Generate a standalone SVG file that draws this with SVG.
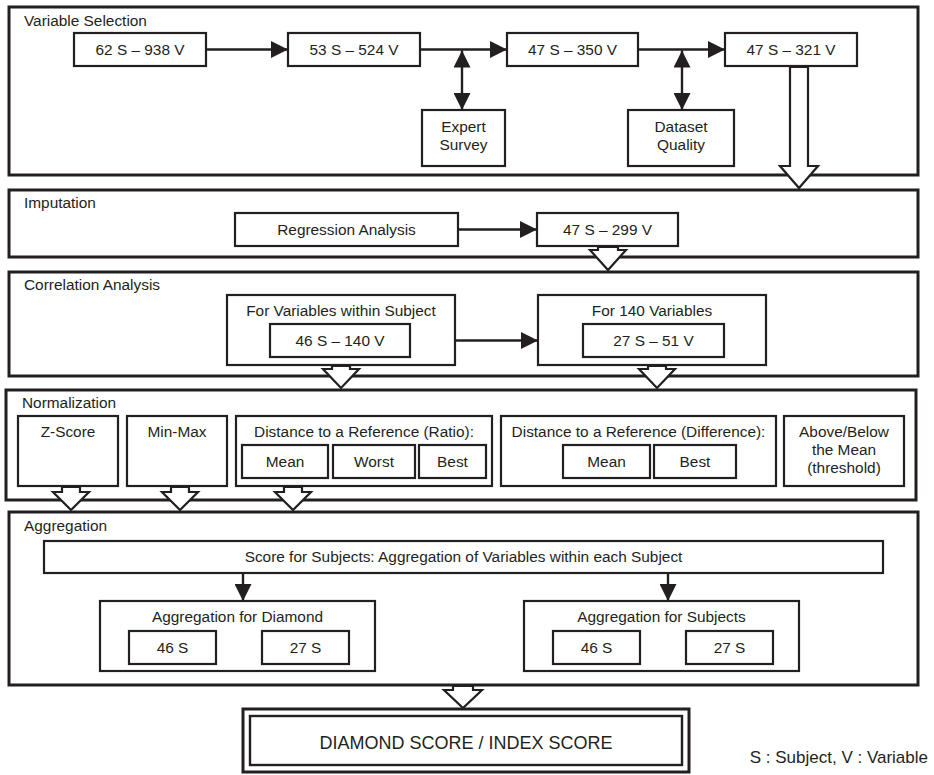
<svg xmlns="http://www.w3.org/2000/svg" width="934" height="775" viewBox="0 0 934 775">
<defs>
<marker id="ah" markerUnits="userSpaceOnUse" markerWidth="18" markerHeight="17" refX="17" refY="8.5" orient="auto-start-reverse" viewBox="0 0 18 17">
<path d="M0,0 L17,8.5 L0,17 Z" fill="#231f20"/>
</marker>
</defs>
<style>
text{font-family:"Liberation Sans",Arial,sans-serif;font-size:15.4px;fill:#231f20}
.c{text-anchor:middle}
.sec{fill:#fff;stroke:#231f20;stroke-width:3}
.box{fill:#fff;stroke:#231f20;stroke-width:2.2}
.ln{fill:none;stroke:#231f20;stroke-width:2.4}
.hollow{fill:#fff;stroke:#231f20;stroke-width:2.2;stroke-linejoin:miter}
.big{font-size:18px}
.leg{font-size:17px}
</style>
<rect width="934" height="775" fill="#fff"/>

<g id="sec-variable-selection">
<rect class="sec" x="9" y="7" width="909" height="168"/>
<text x="24" y="26">Variable Selection</text>
</g>
<g id="sec-imputation">
<rect class="sec" x="9" y="190" width="909" height="67"/>
<text x="24" y="208">Imputation</text>
</g>
<g id="sec-correlation">
<rect class="sec" x="9" y="272" width="909" height="104"/>
<text x="24" y="290">Correlation Analysis</text>
</g>
<g id="sec-normalization">
<rect class="sec" x="6" y="390" width="910" height="110"/>
<text x="22" y="408">Normalization</text>
</g>
<g id="sec-aggregation">
<rect class="sec" x="9" y="512" width="909" height="173"/>
<text x="24" y="531">Aggregation</text>
</g>

<g id="n-62s938v"><rect class="box" x="74" y="33" width="132" height="33"/><text class="c" x="140" y="55">62 S – 938 V</text></g>
<g id="n-53s524v"><rect class="box" x="288" y="33" width="132" height="33"/><text class="c" x="354" y="55">53 S – 524 V</text></g>
<g id="n-47s350v"><rect class="box" x="507" y="33" width="131" height="33"/><text class="c" x="572.5" y="55">47 S – 350 V</text></g>
<g id="n-47s321v"><rect class="box" x="725" y="33" width="132" height="33"/><text class="c" x="791" y="55">47 S – 321 V</text></g>
<g id="n-expert"><rect class="box" x="422" y="110" width="83" height="56"/><text class="c" x="463.5" y="132">Expert</text><text class="c" x="463.5" y="150">Survey</text></g>
<g id="n-dataset"><rect class="box" x="628" y="110" width="106" height="56"/><text class="c" x="681" y="132">Dataset</text><text class="c" x="681" y="150">Quality</text></g>

<g id="n-regression"><rect class="box" x="235" y="213" width="223" height="33"/><text class="c" x="346.5" y="235">Regression Analysis</text></g>
<g id="n-47s299v"><rect class="box" x="537" y="213" width="141" height="33"/><text class="c" x="607.5" y="235">47 S – 299 V</text></g>

<g id="n-within-subject"><rect class="box" x="227" y="295" width="228" height="70"/><text class="c" x="341" y="316">For Variables within Subject</text>
<rect class="box" x="270" y="324" width="140" height="33"/><text class="c" x="340" y="346">46 S – 140 V</text></g>
<g id="n-140vars"><rect class="box" x="538" y="295" width="228" height="70"/><text class="c" x="652" y="316">For 140 Variables</text>
<rect class="box" x="583" y="324" width="141" height="33"/><text class="c" x="653.5" y="346">27 S – 51 V</text></g>

<g id="n-zscore"><rect class="box" x="18" y="416" width="100" height="70"/><text class="c" x="68" y="437">Z-Score</text></g>
<g id="n-minmax"><rect class="box" x="127" y="416" width="100" height="70"/><text class="c" x="177" y="437">Min-Max</text></g>
<g id="n-ratio"><rect class="box" x="236" y="416" width="256" height="70"/><text class="c" x="364" y="437">Distance to a Reference (Ratio):</text>
<rect class="box" x="242" y="445" width="86" height="33"/><text class="c" x="285" y="467">Mean</text>
<rect class="box" x="333" y="445" width="82" height="33"/><text class="c" x="374" y="467">Worst</text>
<rect class="box" x="419" y="445" width="67" height="33"/><text class="c" x="452.5" y="467">Best</text></g>
<g id="n-difference"><rect class="box" x="501" y="416" width="275" height="70"/><text class="c" x="638.5" y="437">Distance to a Reference (Difference):</text>
<rect class="box" x="563" y="445" width="87" height="33"/><text class="c" x="606.5" y="467">Mean</text>
<rect class="box" x="654" y="445" width="82" height="33"/><text class="c" x="695" y="467">Best</text></g>
<g id="n-threshold"><rect class="box" x="784" y="416" width="120" height="70"/><text class="c" x="844" y="437">Above/Below</text><text class="c" x="844" y="455">the Mean</text><text class="c" x="844" y="473">(threshold)</text></g>

<g id="n-score-subjects"><rect class="box" x="44" y="541" width="839" height="32"/><text class="c" x="463.5" y="562">Score for Subjects: Aggregation of Variables within each Subject</text></g>
<g id="n-agg-diamond"><rect class="box" x="100" y="601" width="275" height="70"/><text class="c" x="237.5" y="622">Aggregation for Diamond</text>
<rect class="box" x="129" y="631" width="87" height="33"/><text class="c" x="172.5" y="653">46 S</text>
<rect class="box" x="262" y="631" width="87" height="33"/><text class="c" x="305.5" y="653">27 S</text></g>
<g id="n-agg-subjects"><rect class="box" x="524" y="601" width="275" height="70"/><text class="c" x="661.5" y="622">Aggregation for Subjects</text>
<rect class="box" x="553" y="631" width="87" height="33"/><text class="c" x="596.5" y="653">46 S</text>
<rect class="box" x="686" y="631" width="87" height="33"/><text class="c" x="729.5" y="653">27 S</text></g>

<g id="n-final"><rect x="243" y="709" width="446" height="63" fill="#fff" stroke="#231f20" stroke-width="3"/>
<rect x="250" y="716" width="432" height="49" fill="none" stroke="#231f20" stroke-width="2.4"/>
<text class="c big" x="466" y="749">DIAMOND SCORE / INDEX SCORE</text></g>

<g id="legend"><text class="leg" x="928" y="763" text-anchor="end">S : Subject, V : Variable</text></g>

<g id="connectors">
<line class="ln" x1="206" y1="49.5" x2="288" y2="49.5" marker-end="url(#ah)"/>
<line class="ln" x1="420" y1="49.5" x2="507" y2="49.5" marker-end="url(#ah)"/>
<line class="ln" x1="638" y1="49.5" x2="725" y2="49.5" marker-end="url(#ah)"/>
<line class="ln" x1="462" y1="50.5" x2="462" y2="110" marker-start="url(#ah)" marker-end="url(#ah)"/>
<line class="ln" x1="682" y1="50.5" x2="682" y2="110" marker-start="url(#ah)" marker-end="url(#ah)"/>
<line class="ln" x1="458" y1="229.5" x2="537" y2="229.5" marker-end="url(#ah)"/>
<line class="ln" x1="455" y1="340.5" x2="538" y2="340.5" marker-end="url(#ah)"/>
<line class="ln" x1="243" y1="573" x2="243" y2="601" marker-end="url(#ah)"/>
<line class="ln" x1="668" y1="573" x2="668" y2="601" marker-end="url(#ah)"/>
<polygon class="hollow" points="790,67 808,67 808,166 818,166 799,188 780,166 790,166"/>
<polygon class="hollow" points="598,247 618,247 618,250 626,250 608,270 590,250 598,250"/>
<polygon class="hollow" points="332,366 350,366 350,369 359,369 341,388 323,369 332,369"/>
<polygon class="hollow" points="648,366 666,366 666,369 675,369 657,388 639,369 648,369"/>
<polygon class="hollow" points="62,487 80,487 80,492 89,492 71,510 53,492 62,492"/>
<polygon class="hollow" points="171,487 189,487 189,492 198,492 180,510 162,492 171,492"/>
<polygon class="hollow" points="284,487 302,487 302,492 311,492 293,510 275,492 284,492"/>
<polygon class="hollow" points="453,686 473,686 473,690 482,690 463,708 444,690 453,690"/>
</g>
</svg>
